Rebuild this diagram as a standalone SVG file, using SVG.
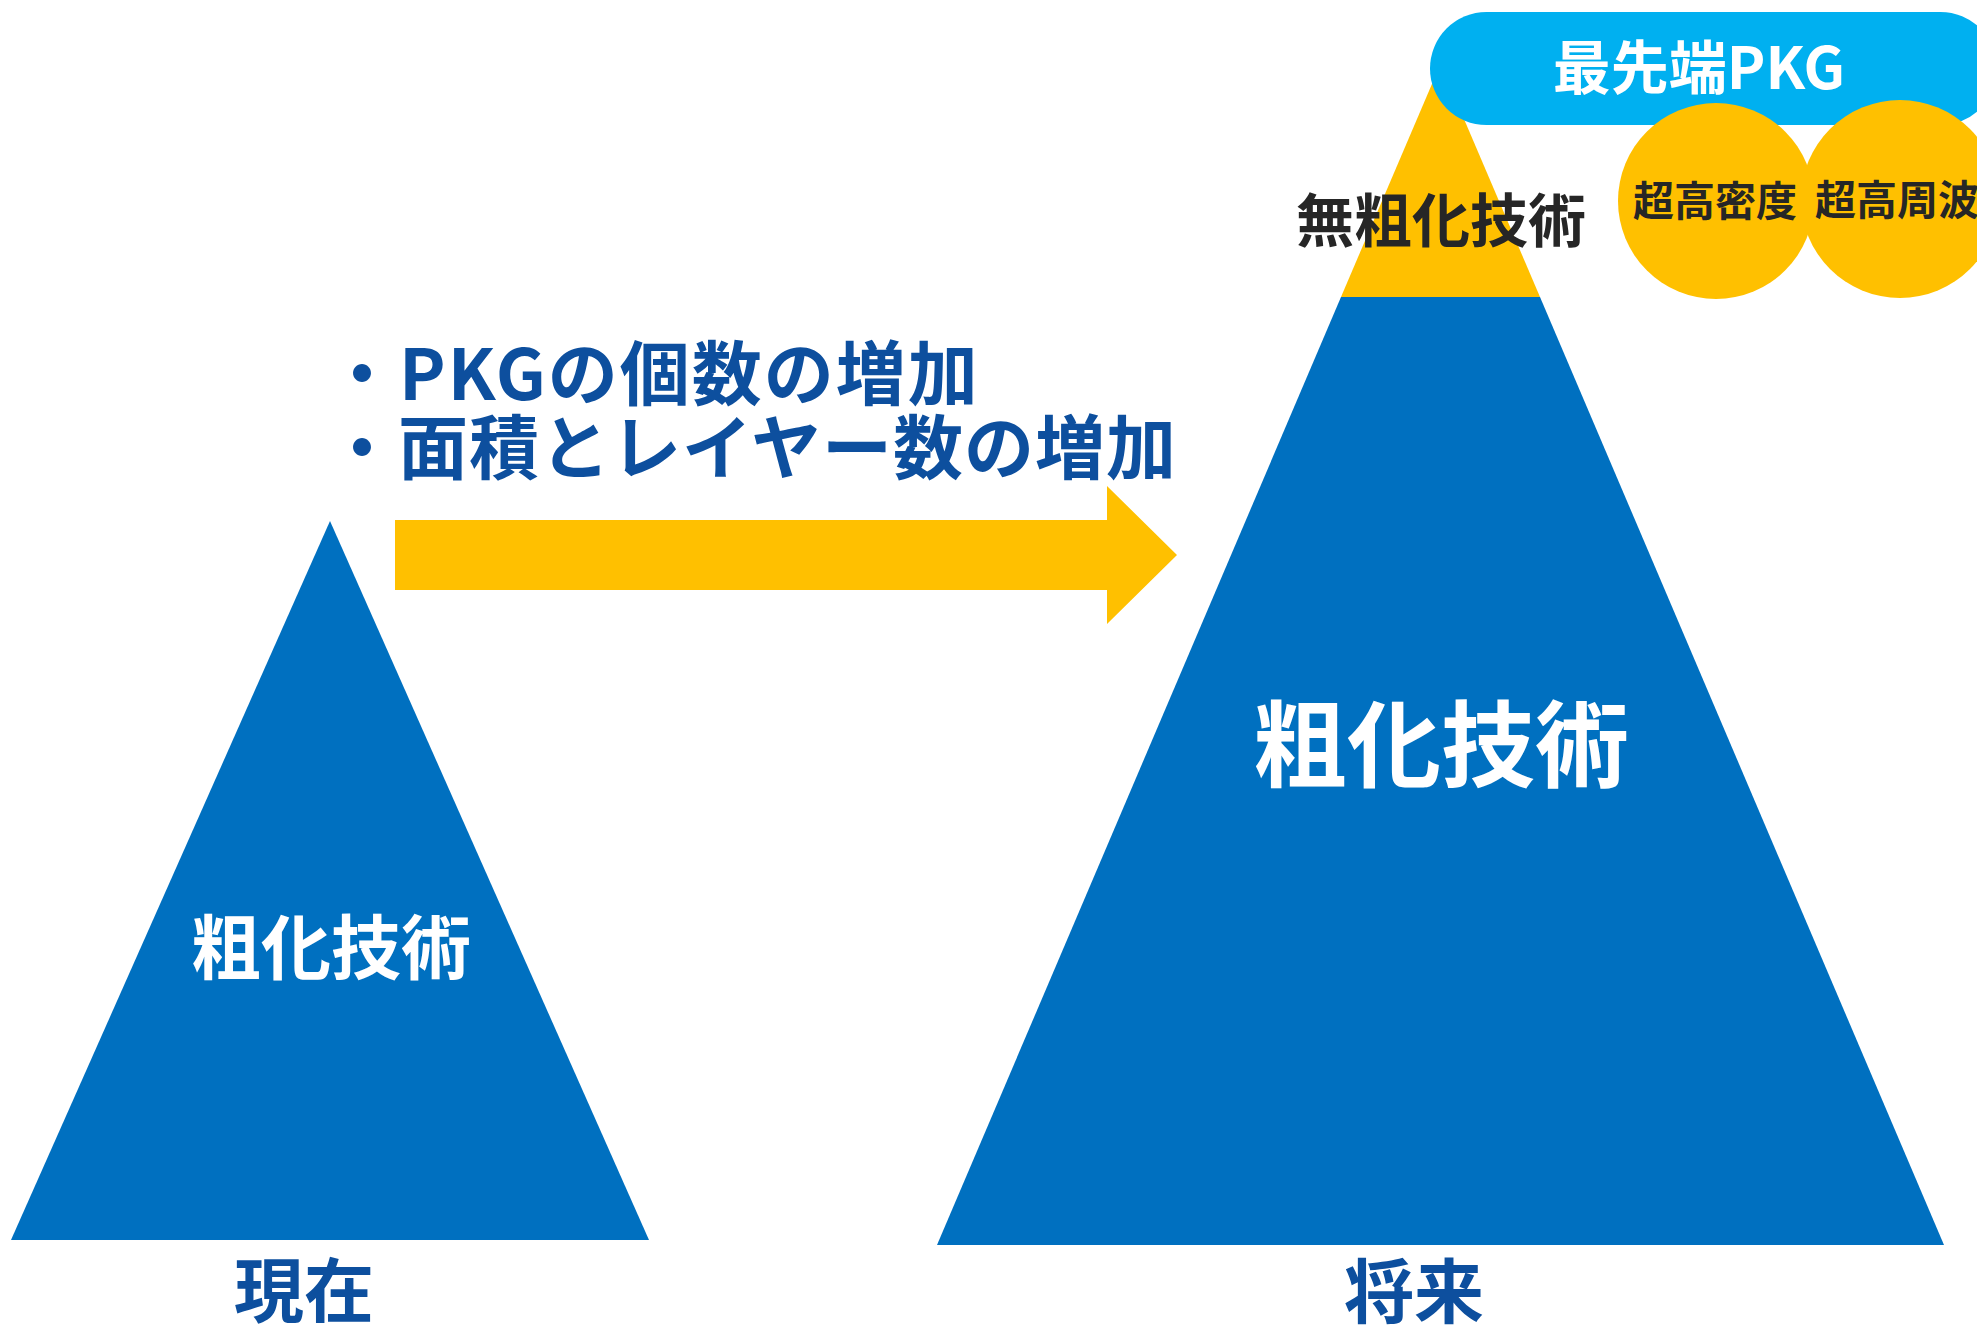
<svg xmlns="http://www.w3.org/2000/svg" width="1977" height="1325" viewBox="0 0 1977 1325">
<style>
.t{font-family:"Noto Sans CJK JP","Noto Sans",sans-serif;font-weight:700}
.w{fill:#FFFFFF}
.d{fill:#262626}
.b{fill:#0D4F9E}
.yel{fill:#FFC000}
.blu{fill:#0070C0}
</style>
<rect width="1977" height="1325" fill="#FFFFFF"/>
<g id="current">
<polygon class="blu" points="330,521 11,1240 649,1240"/>
<text class="t w" x="331" y="974" font-size="70" text-anchor="middle">粗化技術</text>
<text class="t b" x="304" y="1317" font-size="70" text-anchor="middle">現在</text>
</g>
<g id="future">
<polygon class="blu" points="1341,297 1540,297 1944,1245 937,1245"/>
<polygon class="yel" points="1440.5,64 1540,297 1341,297"/>
<text class="t w" x="1441" y="780" font-size="94" text-anchor="middle">粗化技術</text>
<text class="t d" x="1441" y="242" font-size="58" font-weight="900" text-anchor="middle">無粗化技術</text>
<text class="t b" x="1414" y="1318" font-size="70" text-anchor="middle">将来</text>
</g>
<g id="advanced-pkg">
<rect x="1430" y="12" width="567" height="113" rx="56.5" fill="#00B0F0"/>
<text class="t w" x="1699" y="89" font-size="58" text-anchor="middle">最先端PKG</text>
</g>
<g id="high-density">
<circle class="yel" cx="1716" cy="201" r="98"/>
<text class="t d" x="1715" y="216" font-size="41" text-anchor="middle">超高密度</text>
</g>
<g id="high-frequency">
<circle class="yel" cx="1900" cy="199" r="99"/>
<text class="t d" x="1897" y="215" font-size="41" text-anchor="middle">超高周波</text>
</g>
<g id="connectors">
<polygon class="yel" points="395,520 1107,520 1107,486 1177,555 1107,624 1107,590 395,590"/>
</g>
<g id="labels">
<text class="t b" x="327" y="400" font-size="70" letter-spacing="2">・PKGの個数の増加</text>
<text class="t b" x="327" y="474" font-size="70" letter-spacing="1">・面積とレイヤー数の増加</text>
</g>
</svg>
